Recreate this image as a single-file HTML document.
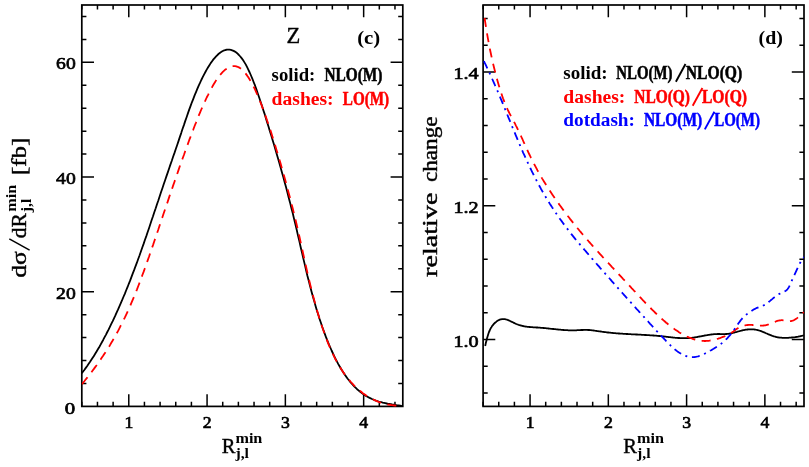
<!DOCTYPE html>
<html><head><meta charset="utf-8"><title>plot</title>
<style>
html,body{margin:0;padding:0;background:#fff;}
svg{display:block;}
#w{will-change:transform;width:809px;height:467px;overflow:hidden;}
text{font-family:"Liberation Serif",serif;font-weight:bold;fill:#000;}
.md{font-weight:normal;stroke:#000;stroke-width:0.4;}
.dg text{font-weight:normal;stroke:#000;stroke-width:0.7;}
.fr{fill:none;stroke:#000;stroke-width:1.7;}
.tk{fill:none;stroke:#000;stroke-width:1.5;}
.cv{fill:none;stroke-width:1.8;stroke-linejoin:round;}
</style></head><body>
<div id="w"><svg width="809" height="467" viewBox="0 0 809 467">
<!-- left panel -->
<path class="tk" d="M81.80,406.4v-4.6 M81.80,5.0v4.6 M97.46,406.4v-4.6 M97.46,5.0v4.6 M113.12,406.4v-4.6 M113.12,5.0v4.6 M144.43,406.4v-4.6 M144.43,5.0v4.6 M160.09,406.4v-4.6 M160.09,5.0v4.6 M175.75,406.4v-4.6 M175.75,5.0v4.6 M191.41,406.4v-4.6 M191.41,5.0v4.6 M222.73,406.4v-4.6 M222.73,5.0v4.6 M238.39,406.4v-4.6 M238.39,5.0v4.6 M254.04,406.4v-4.6 M254.04,5.0v4.6 M269.70,406.4v-4.6 M269.70,5.0v4.6 M301.02,406.4v-4.6 M301.02,5.0v4.6 M316.68,406.4v-4.6 M316.68,5.0v4.6 M332.34,406.4v-4.6 M332.34,5.0v4.6 M348.00,406.4v-4.6 M348.00,5.0v4.6 M379.31,406.4v-4.6 M379.31,5.0v4.6 M394.97,406.4v-4.6 M394.97,5.0v4.6 M128.78,406.4v-12.2 M128.78,5.0v12.2 M207.07,406.4v-12.2 M207.07,5.0v12.2 M285.36,406.4v-12.2 M285.36,5.0v12.2 M363.65,406.4v-12.2 M363.65,5.0v12.2 M81.8,383.46h4.6 M402.8,383.46h-4.6 M81.8,360.53h4.6 M402.8,360.53h-4.6 M81.8,337.59h4.6 M402.8,337.59h-4.6 M81.8,314.65h4.6 M402.8,314.65h-4.6 M81.8,268.78h4.6 M402.8,268.78h-4.6 M81.8,245.84h4.6 M402.8,245.84h-4.6 M81.8,222.90h4.6 M402.8,222.90h-4.6 M81.8,199.97h4.6 M402.8,199.97h-4.6 M81.8,154.09h4.6 M402.8,154.09h-4.6 M81.8,131.15h4.6 M402.8,131.15h-4.6 M81.8,108.22h4.6 M402.8,108.22h-4.6 M81.8,85.28h4.6 M402.8,85.28h-4.6 M81.8,39.41h4.6 M402.8,39.41h-4.6 M81.8,16.47h4.6 M402.8,16.47h-4.6 M81.8,291.71h12.2 M402.8,291.71h-12.2 M81.8,177.03h12.2 M402.8,177.03h-12.2 M81.8,62.34h12.2 M402.8,62.34h-12.2"/>
<rect class="fr" x="81.8" y="5.0" width="321.0" height="401.4"/>
<clipPath id="cl"><rect x="81.8" y="5.0" width="321.0" height="402.4"/></clipPath>
<g clip-path="url(#cl)">
<path class="cv" stroke="#000" d="M81.8,373.2 L83.1,371.5 L84.5,369.7 L85.8,367.9 L87.2,366.0 L88.5,364.1 L89.9,362.1 L91.2,360.1 L92.5,358.1 L93.9,355.9 L95.2,353.8 L96.6,351.5 L97.9,349.3 L99.3,347.0 L100.6,344.6 L101.9,342.2 L103.3,339.7 L104.6,337.2 L106.0,334.6 L107.3,332.0 L108.7,329.4 L110.0,326.7 L111.3,323.9 L112.7,321.1 L114.0,318.3 L115.4,315.4 L116.7,312.4 L118.1,309.4 L119.4,306.4 L120.7,303.3 L122.1,300.2 L123.4,297.0 L124.8,293.8 L126.1,290.5 L127.5,287.2 L128.8,283.8 L130.2,280.4 L131.5,276.9 L132.8,273.4 L134.2,269.9 L135.5,266.3 L136.9,262.7 L138.2,259.0 L139.6,255.3 L140.9,251.5 L142.2,247.7 L143.6,243.9 L144.9,240.0 L146.3,236.1 L147.6,232.2 L149.0,228.2 L150.3,224.3 L151.6,220.3 L153.0,216.3 L154.3,212.3 L155.7,208.3 L157.0,204.3 L158.4,200.3 L159.7,196.2 L161.0,192.2 L162.4,188.2 L163.7,184.3 L165.1,180.3 L166.4,176.4 L167.8,172.4 L169.1,168.5 L170.4,164.6 L171.8,160.7 L173.1,156.8 L174.5,152.9 L175.8,149.0 L177.2,145.0 L178.5,141.1 L179.8,137.1 L181.2,133.1 L182.5,129.0 L183.9,125.1 L185.2,121.1 L186.6,117.2 L187.9,113.4 L189.2,109.6 L190.6,105.9 L191.9,102.3 L193.3,98.8 L194.6,95.4 L196.0,92.1 L197.3,88.9 L198.6,85.8 L200.0,82.9 L201.3,80.0 L202.7,77.2 L204.0,74.6 L205.4,72.0 L206.7,69.6 L208.1,67.3 L209.4,65.2 L210.7,63.1 L212.1,61.2 L213.4,59.4 L214.8,57.8 L216.1,56.3 L217.5,55.0 L218.8,53.7 L220.1,52.7 L221.5,51.8 L222.8,51.0 L224.2,50.4 L225.5,50.0 L226.9,49.7 L228.2,49.6 L229.5,49.7 L230.9,49.9 L232.2,50.3 L233.6,50.9 L234.9,51.6 L236.3,52.5 L237.6,53.7 L238.9,55.0 L240.3,56.5 L241.6,58.1 L243.0,60.0 L244.3,62.1 L245.7,64.4 L247.0,66.9 L248.3,69.6 L249.7,72.5 L251.0,75.5 L252.4,78.8 L253.7,82.2 L255.1,85.7 L256.4,89.4 L257.7,93.2 L259.1,97.2 L260.4,101.2 L261.8,105.3 L263.1,109.4 L264.5,113.6 L265.8,117.9 L267.1,122.2 L268.5,126.5 L269.8,130.9 L271.2,135.3 L272.5,139.7 L273.9,144.2 L275.2,148.7 L276.5,153.3 L277.9,157.9 L279.2,162.6 L280.6,167.4 L281.9,172.2 L283.3,177.0 L284.6,182.0 L286.0,187.0 L287.3,192.0 L288.6,197.2 L290.0,202.4 L291.3,207.7 L292.7,213.1 L294.0,218.6 L295.4,224.2 L296.7,229.8 L298.0,235.6 L299.4,241.4 L300.7,247.2 L302.1,253.1 L303.4,258.9 L304.8,264.6 L306.1,270.2 L307.4,275.8 L308.8,281.1 L310.1,286.3 L311.5,291.4 L312.8,296.3 L314.2,301.1 L315.5,305.7 L316.8,310.2 L318.2,314.5 L319.5,318.7 L320.9,322.8 L322.2,326.7 L323.6,330.5 L324.9,334.1 L326.2,337.7 L327.6,341.1 L328.9,344.3 L330.3,347.5 L331.6,350.5 L333.0,353.5 L334.3,356.3 L335.6,359.0 L337.0,361.6 L338.3,364.1 L339.7,366.5 L341.0,368.8 L342.4,370.9 L343.7,373.0 L345.0,375.0 L346.4,376.9 L347.7,378.8 L349.1,380.5 L350.4,382.1 L351.8,383.7 L353.1,385.2 L354.4,386.6 L355.8,387.9 L357.1,389.2 L358.5,390.4 L359.8,391.5 L361.2,392.5 L362.5,393.5 L363.9,394.5 L365.2,395.4 L366.5,396.2 L367.9,396.9 L369.2,397.7 L370.6,398.3 L371.9,399.0 L373.3,399.5 L374.6,400.1 L375.9,400.6 L377.3,401.0 L378.6,401.5 L380.0,401.9 L381.3,402.2 L382.7,402.6 L384.0,402.9 L385.3,403.2 L386.7,403.5 L388.0,403.8 L389.4,404.0 L390.7,404.2 L392.1,404.5 L393.4,404.7 L394.7,404.9 L396.1,405.1 L397.4,405.3 L398.8,405.5 L400.1,405.7 L401.5,406.0 L402.8,406.2"/>
<path class="cv" stroke="#f00" stroke-dasharray="9 6.5" d="M81.8,384.3 L83.1,382.7 L84.5,381.0 L85.8,379.3 L87.2,377.7 L88.5,376.0 L89.9,374.2 L91.2,372.5 L92.5,370.7 L93.9,368.9 L95.2,367.1 L96.6,365.3 L97.9,363.4 L99.3,361.5 L100.6,359.6 L101.9,357.6 L103.3,355.6 L104.6,353.6 L106.0,351.5 L107.3,349.4 L108.7,347.3 L110.0,345.1 L111.3,342.8 L112.7,340.5 L114.0,338.2 L115.4,335.8 L116.7,333.4 L118.1,330.9 L119.4,328.3 L120.7,325.7 L122.1,323.1 L123.4,320.4 L124.8,317.6 L126.1,314.8 L127.5,311.8 L128.8,308.9 L130.2,305.9 L131.5,302.7 L132.8,299.6 L134.2,296.3 L135.5,293.0 L136.9,289.6 L138.2,286.2 L139.6,282.7 L140.9,279.1 L142.2,275.5 L143.6,271.9 L144.9,268.2 L146.3,264.4 L147.6,260.6 L149.0,256.8 L150.3,252.9 L151.6,249.0 L153.0,245.1 L154.3,241.2 L155.7,237.2 L157.0,233.3 L158.4,229.3 L159.7,225.3 L161.0,221.3 L162.4,217.3 L163.7,213.3 L165.1,209.3 L166.4,205.4 L167.8,201.4 L169.1,197.4 L170.4,193.5 L171.8,189.5 L173.1,185.6 L174.5,181.7 L175.8,177.9 L177.2,174.0 L178.5,170.1 L179.8,166.3 L181.2,162.5 L182.5,158.7 L183.9,155.0 L185.2,151.2 L186.6,147.5 L187.9,143.9 L189.2,140.2 L190.6,136.6 L191.9,133.0 L193.3,129.5 L194.6,126.0 L196.0,122.6 L197.3,119.2 L198.6,115.9 L200.0,112.6 L201.3,109.5 L202.7,106.4 L204.0,103.3 L205.4,100.4 L206.7,97.5 L208.1,94.8 L209.4,92.1 L210.7,89.6 L212.1,87.1 L213.4,84.8 L214.8,82.5 L216.1,80.4 L217.5,78.5 L218.8,76.6 L220.1,74.9 L221.5,73.3 L222.8,71.9 L224.2,70.6 L225.5,69.4 L226.9,68.5 L228.2,67.6 L229.5,67.0 L230.9,66.5 L232.2,66.2 L233.6,66.1 L234.9,66.1 L236.3,66.3 L237.6,66.8 L238.9,67.4 L240.3,68.2 L241.6,69.3 L243.0,70.5 L244.3,71.9 L245.7,73.6 L247.0,75.4 L248.3,77.3 L249.7,79.5 L251.0,81.8 L252.4,84.3 L253.7,86.9 L255.1,89.7 L256.4,92.6 L257.7,95.7 L259.1,98.8 L260.4,102.2 L261.8,105.6 L263.1,109.2 L264.5,112.8 L265.8,116.6 L267.1,120.5 L268.5,124.4 L269.8,128.5 L271.2,132.6 L272.5,136.9 L273.9,141.1 L275.2,145.5 L276.5,149.9 L277.9,154.4 L279.2,159.0 L280.6,163.6 L281.9,168.3 L283.3,173.0 L284.6,177.8 L286.0,182.7 L287.3,187.7 L288.6,192.7 L290.0,197.8 L291.3,203.0 L292.7,208.3 L294.0,213.6 L295.4,219.1 L296.7,224.7 L298.0,230.5 L299.4,236.5 L300.7,242.5 L302.1,248.6 L303.4,254.8 L304.8,260.9 L306.1,266.9 L307.4,272.8 L308.8,278.6 L310.1,284.2 L311.5,289.7 L312.8,294.9 L314.2,300.0 L315.5,305.0 L316.8,309.7 L318.2,314.3 L319.5,318.7 L320.9,322.9 L322.2,327.0 L323.6,331.0 L324.9,334.7 L326.2,338.3 L327.6,341.8 L328.9,345.1 L330.3,348.2 L331.6,351.2 L333.0,354.1 L334.3,356.9 L335.6,359.5 L337.0,362.0 L338.3,364.4 L339.7,366.7 L341.0,368.8 L342.4,370.9 L343.7,372.9 L345.0,374.7 L346.4,376.5 L347.7,378.3 L349.1,379.9 L350.4,381.5 L351.8,383.0 L353.1,384.4 L354.4,385.8 L355.8,387.1 L357.1,388.4 L358.5,389.6 L359.8,390.7 L361.2,391.8 L362.5,392.9 L363.9,393.9 L365.2,394.8 L366.5,395.7 L367.9,396.6 L369.2,397.4 L370.6,398.1 L371.9,398.8 L373.3,399.5 L374.6,400.1 L375.9,400.7 L377.3,401.3 L378.6,401.8 L380.0,402.3 L381.3,402.7 L382.7,403.1 L384.0,403.5 L385.3,403.8 L386.7,404.2 L388.0,404.5 L389.4,404.7 L390.7,405.0 L392.1,405.2 L393.4,405.4 L394.7,405.5 L396.1,405.7 L397.4,405.8 L398.8,405.9 L400.1,406.0 L401.5,406.1 L402.8,406.2"/>
</g>
<g font-size="17.7" text-anchor="end" class="dg">
<text x="75.7" y="69.4" textLength="19.6" lengthAdjust="spacingAndGlyphs">60</text>
<text x="75.7" y="184.1" textLength="19.6" lengthAdjust="spacingAndGlyphs">40</text>
<text x="75.7" y="298.8" textLength="19.6" lengthAdjust="spacingAndGlyphs">20</text>
<text x="75.1" y="413.5" textLength="10.4" lengthAdjust="spacingAndGlyphs">0</text>
</g>
<g font-size="17.7" text-anchor="middle" class="dg">
<text x="128.8" y="428">1</text><text x="207.1" y="428">2</text><text x="285.4" y="428">3</text><text x="363.7" y="428">4</text>
</g>
<text x="221.7" y="452.9" font-size="20.5" class="md">R</text>
<text x="235.4" y="443.1" font-size="15" textLength="27" lengthAdjust="spacingAndGlyphs">min</text>
<text x="235.4" y="457.5" font-size="15" textLength="13.6" lengthAdjust="spacingAndGlyphs">j,l</text>
<text x="286.5" y="42.6" font-size="22.5" class="md">Z</text>
<text x="357.2" y="43.9" font-size="18.6" textLength="23" lengthAdjust="spacingAndGlyphs">(c)</text>
<text x="271.6" y="80.7" font-size="18.5" textLength="43.7" lengthAdjust="spacingAndGlyphs">solid:</text>
<text stroke="#000" stroke-width="0.55" x="324.5" y="80.7" font-size="18.5" textLength="57.9" lengthAdjust="spacingAndGlyphs">NLO(M)</text>
<text x="271.6" y="104.5" font-size="18.5" textLength="62.0" lengthAdjust="spacingAndGlyphs" style="fill:#f00">dashes:</text>
<text stroke="#f00" stroke-width="0.55" x="342.8" y="104.5" font-size="18.5" textLength="46.3" lengthAdjust="spacingAndGlyphs" style="fill:#f00">LO(M)</text>
<g transform="translate(25.7,276.6) rotate(-90)">
<text x="-1.2" y="0" font-size="20.5" class="md" textLength="26.5" lengthAdjust="spacingAndGlyphs">dσ</text>
<path d="M26.4,3.9 L37.7,-16.4" stroke="#000" stroke-width="1.5" fill="none"/>
<text x="38.3" y="0" font-size="20.5" class="md" textLength="25.2" lengthAdjust="spacingAndGlyphs">dR</text>
<text x="64.8" y="-9.7" font-size="15" textLength="27" lengthAdjust="spacingAndGlyphs">min</text>
<text x="64.3" y="5" font-size="15" textLength="13.6" lengthAdjust="spacingAndGlyphs">j,l</text>
<text x="101.5" y="0" font-size="20.5" class="md" textLength="37.5" lengthAdjust="spacingAndGlyphs">[fb]</text>
</g>

<!-- right panel -->
<path class="tk" d="M483.10,406.4v-4.6 M483.10,5.0v4.6 M498.75,406.4v-4.6 M498.75,5.0v4.6 M514.41,406.4v-4.6 M514.41,5.0v4.6 M545.71,406.4v-4.6 M545.71,5.0v4.6 M561.37,406.4v-4.6 M561.37,5.0v4.6 M577.02,406.4v-4.6 M577.02,5.0v4.6 M592.68,406.4v-4.6 M592.68,5.0v4.6 M623.98,406.4v-4.6 M623.98,5.0v4.6 M639.64,406.4v-4.6 M639.64,5.0v4.6 M655.29,406.4v-4.6 M655.29,5.0v4.6 M670.94,406.4v-4.6 M670.94,5.0v4.6 M702.25,406.4v-4.6 M702.25,5.0v4.6 M717.90,406.4v-4.6 M717.90,5.0v4.6 M733.56,406.4v-4.6 M733.56,5.0v4.6 M749.21,406.4v-4.6 M749.21,5.0v4.6 M780.52,406.4v-4.6 M780.52,5.0v4.6 M796.17,406.4v-4.6 M796.17,5.0v4.6 M530.06,406.4v-12.2 M530.06,5.0v12.2 M608.33,406.4v-12.2 M608.33,5.0v12.2 M686.60,406.4v-12.2 M686.60,5.0v12.2 M764.87,406.4v-12.2 M764.87,5.0v12.2 M483.1,393.02h4.6 M804.0,393.02h-4.6 M483.1,366.26h4.6 M804.0,366.26h-4.6 M483.1,312.74h4.6 M804.0,312.74h-4.6 M483.1,285.98h4.6 M804.0,285.98h-4.6 M483.1,259.22h4.6 M804.0,259.22h-4.6 M483.1,232.46h4.6 M804.0,232.46h-4.6 M483.1,178.94h4.6 M804.0,178.94h-4.6 M483.1,152.18h4.6 M804.0,152.18h-4.6 M483.1,125.42h4.6 M804.0,125.42h-4.6 M483.1,98.66h4.6 M804.0,98.66h-4.6 M483.1,45.14h4.6 M804.0,45.14h-4.6 M483.1,18.38h4.6 M804.0,18.38h-4.6 M483.1,339.50h12.2 M804.0,339.50h-12.2 M483.1,205.70h12.2 M804.0,205.70h-12.2 M483.1,71.90h12.2 M804.0,71.90h-12.2"/>
<rect class="fr" x="483.1" y="5.0" width="320.9" height="401.4"/>
<clipPath id="cr"><rect x="483.1" y="5.0" width="320.9" height="401.4"/></clipPath>
<g clip-path="url(#cr)">
<path class="cv" stroke="#000" d="M485.2,346.0 L485.8,343.1 L486.5,340.4 L487.1,337.9 L487.8,335.7 L488.4,333.7 L489.0,332.0 L489.7,330.5 L490.3,329.1 L490.9,327.9 L491.6,326.9 L492.2,325.9 L492.9,325.1 L493.5,324.4 L494.1,323.7 L494.8,323.0 L495.4,322.4 L496.1,321.9 L496.7,321.4 L497.3,320.9 L498.0,320.5 L498.6,320.2 L499.2,319.9 L499.9,319.6 L500.5,319.4 L501.2,319.3 L501.8,319.2 L502.4,319.1 L503.1,319.1 L503.7,319.1 L504.4,319.1 L505.0,319.2 L505.6,319.3 L506.3,319.5 L506.9,319.7 L507.5,319.9 L508.2,320.1 L508.8,320.4 L509.5,320.7 L510.1,321.0 L510.7,321.3 L511.4,321.6 L512.0,321.9 L512.7,322.2 L513.3,322.5 L513.9,322.9 L514.6,323.2 L515.2,323.5 L515.8,323.8 L516.5,324.0 L517.1,324.3 L517.8,324.5 L518.4,324.8 L519.0,325.0 L519.7,325.2 L520.3,325.4 L521.0,325.5 L521.6,325.7 L522.2,325.9 L522.9,326.0 L523.5,326.1 L524.1,326.3 L524.8,326.4 L525.4,326.5 L526.1,326.6 L526.7,326.7 L527.3,326.8 L528.0,326.8 L528.6,326.9 L529.3,327.0 L529.9,327.0 L530.5,327.1 L531.2,327.1 L531.8,327.2 L532.4,327.2 L533.1,327.3 L533.7,327.3 L534.4,327.4 L535.0,327.4 L535.6,327.4 L536.3,327.5 L536.9,327.5 L537.6,327.5 L538.2,327.6 L538.8,327.6 L539.5,327.7 L540.1,327.7 L540.7,327.8 L541.4,327.8 L542.0,327.9 L542.7,327.9 L543.3,328.0 L543.9,328.0 L544.6,328.1 L545.2,328.2 L545.9,328.2 L546.5,328.3 L547.1,328.4 L547.8,328.4 L548.4,328.5 L549.0,328.6 L549.7,328.6 L550.3,328.7 L551.0,328.8 L551.6,328.8 L552.2,328.9 L552.9,329.0 L553.5,329.0 L554.2,329.1 L554.8,329.2 L555.4,329.2 L556.1,329.3 L556.7,329.4 L557.3,329.4 L558.0,329.5 L558.6,329.6 L559.3,329.6 L559.9,329.7 L560.5,329.7 L561.2,329.8 L561.8,329.9 L562.5,329.9 L563.1,330.0 L563.7,330.0 L564.4,330.1 L565.0,330.1 L565.6,330.1 L566.3,330.2 L566.9,330.2 L567.6,330.2 L568.2,330.3 L568.8,330.3 L569.5,330.3 L570.1,330.3 L570.8,330.3 L571.4,330.3 L572.0,330.3 L572.7,330.3 L573.3,330.3 L573.9,330.3 L574.6,330.3 L575.2,330.3 L575.9,330.3 L576.5,330.3 L577.1,330.2 L577.8,330.2 L578.4,330.2 L579.1,330.1 L579.7,330.1 L580.3,330.1 L581.0,330.0 L581.6,330.0 L582.2,330.0 L582.9,330.0 L583.5,329.9 L584.2,329.9 L584.8,329.9 L585.4,329.9 L586.1,329.9 L586.7,329.9 L587.4,329.9 L588.0,330.0 L588.6,330.0 L589.3,330.0 L589.9,330.1 L590.5,330.2 L591.2,330.2 L591.8,330.3 L592.5,330.4 L593.1,330.4 L593.7,330.5 L594.4,330.6 L595.0,330.7 L595.7,330.8 L596.3,330.9 L596.9,331.0 L597.6,331.1 L598.2,331.2 L598.8,331.3 L599.5,331.4 L600.1,331.4 L600.8,331.5 L601.4,331.6 L602.0,331.7 L602.7,331.8 L603.3,331.9 L604.0,332.0 L604.6,332.1 L605.2,332.2 L605.9,332.2 L606.5,332.3 L607.1,332.4 L607.8,332.5 L608.4,332.5 L609.1,332.6 L609.7,332.7 L610.3,332.7 L611.0,332.8 L611.6,332.9 L612.3,332.9 L612.9,333.0 L613.5,333.1 L614.2,333.1 L614.8,333.2 L615.4,333.2 L616.1,333.3 L616.7,333.3 L617.4,333.4 L618.0,333.4 L618.6,333.5 L619.3,333.5 L619.9,333.6 L620.6,333.6 L621.2,333.7 L621.8,333.7 L622.5,333.7 L623.1,333.8 L623.7,333.8 L624.4,333.9 L625.0,333.9 L625.7,333.9 L626.3,334.0 L626.9,334.0 L627.6,334.0 L628.2,334.1 L628.9,334.1 L629.5,334.2 L630.1,334.2 L630.8,334.2 L631.4,334.3 L632.0,334.3 L632.7,334.3 L633.3,334.4 L634.0,334.4 L634.6,334.4 L635.2,334.4 L635.9,334.5 L636.5,334.5 L637.2,334.5 L637.8,334.6 L638.4,334.6 L639.1,334.6 L639.7,334.7 L640.3,334.7 L641.0,334.7 L641.6,334.8 L642.3,334.8 L642.9,334.8 L643.5,334.9 L644.2,334.9 L644.8,335.0 L645.5,335.0 L646.1,335.0 L646.7,335.1 L647.4,335.1 L648.0,335.1 L648.7,335.2 L649.3,335.2 L649.9,335.3 L650.6,335.3 L651.2,335.4 L651.8,335.4 L652.5,335.4 L653.1,335.5 L653.8,335.5 L654.4,335.6 L655.0,335.6 L655.7,335.7 L656.3,335.7 L657.0,335.8 L657.6,335.9 L658.2,335.9 L658.9,336.0 L659.5,336.0 L660.1,336.1 L660.8,336.2 L661.4,336.2 L662.1,336.3 L662.7,336.4 L663.3,336.4 L664.0,336.5 L664.6,336.6 L665.3,336.7 L665.9,336.7 L666.5,336.8 L667.2,336.9 L667.8,336.9 L668.4,337.0 L669.1,337.1 L669.7,337.2 L670.4,337.2 L671.0,337.3 L671.6,337.4 L672.3,337.4 L672.9,337.5 L673.6,337.6 L674.2,337.6 L674.8,337.7 L675.5,337.8 L676.1,337.8 L676.7,337.9 L677.4,337.9 L678.0,338.0 L678.7,338.0 L679.3,338.0 L679.9,338.1 L680.6,338.1 L681.2,338.1 L681.9,338.2 L682.5,338.2 L683.1,338.2 L683.8,338.2 L684.4,338.2 L685.0,338.2 L685.7,338.2 L686.3,338.2 L687.0,338.2 L687.6,338.1 L688.2,338.1 L688.9,338.1 L689.5,338.0 L690.2,338.0 L690.8,337.9 L691.4,337.8 L692.1,337.8 L692.7,337.7 L693.3,337.6 L694.0,337.5 L694.6,337.4 L695.3,337.3 L695.9,337.2 L696.5,337.1 L697.2,337.0 L697.8,336.9 L698.5,336.7 L699.1,336.6 L699.7,336.5 L700.4,336.4 L701.0,336.3 L701.6,336.1 L702.3,336.0 L702.9,335.9 L703.6,335.8 L704.2,335.6 L704.8,335.5 L705.5,335.4 L706.1,335.3 L706.8,335.2 L707.4,335.1 L708.0,335.0 L708.7,334.8 L709.3,334.8 L709.9,334.7 L710.6,334.6 L711.2,334.5 L711.9,334.4 L712.5,334.3 L713.1,334.3 L713.8,334.2 L714.4,334.2 L715.1,334.1 L715.7,334.1 L716.3,334.1 L717.0,334.1 L717.6,334.0 L718.2,334.0 L718.9,334.0 L719.5,334.0 L720.2,334.1 L720.8,334.1 L721.4,334.1 L722.1,334.1 L722.7,334.1 L723.4,334.1 L724.0,334.1 L724.6,334.1 L725.3,334.1 L725.9,334.0 L726.5,334.0 L727.2,333.9 L727.8,333.9 L728.5,333.8 L729.1,333.7 L729.7,333.6 L730.4,333.5 L731.0,333.3 L731.7,333.2 L732.3,333.0 L732.9,332.9 L733.6,332.7 L734.2,332.6 L734.8,332.4 L735.5,332.2 L736.1,332.1 L736.8,331.9 L737.4,331.7 L738.0,331.5 L738.7,331.3 L739.3,331.2 L740.0,331.0 L740.6,330.8 L741.2,330.7 L741.9,330.5 L742.5,330.4 L743.1,330.2 L743.8,330.1 L744.4,330.0 L745.1,329.8 L745.7,329.7 L746.3,329.7 L747.0,329.6 L747.6,329.5 L748.3,329.4 L748.9,329.4 L749.5,329.3 L750.2,329.3 L750.8,329.3 L751.4,329.3 L752.1,329.3 L752.7,329.3 L753.4,329.4 L754.0,329.4 L754.6,329.5 L755.3,329.6 L755.9,329.7 L756.6,329.8 L757.2,330.0 L757.8,330.1 L758.5,330.3 L759.1,330.5 L759.7,330.7 L760.4,330.9 L761.0,331.1 L761.7,331.4 L762.3,331.6 L762.9,331.9 L763.6,332.1 L764.2,332.4 L764.9,332.7 L765.5,333.0 L766.1,333.3 L766.8,333.5 L767.4,333.8 L768.0,334.1 L768.7,334.4 L769.3,334.7 L770.0,334.9 L770.6,335.2 L771.2,335.4 L771.9,335.7 L772.5,335.9 L773.2,336.1 L773.8,336.3 L774.4,336.5 L775.1,336.7 L775.7,336.9 L776.3,337.0 L777.0,337.1 L777.6,337.3 L778.3,337.4 L778.9,337.5 L779.5,337.6 L780.2,337.6 L780.8,337.7 L781.5,337.7 L782.1,337.8 L782.7,337.8 L783.4,337.8 L784.0,337.9 L784.6,337.9 L785.3,337.9 L785.9,337.9 L786.6,337.8 L787.2,337.8 L787.8,337.8 L788.5,337.8 L789.1,337.7 L789.8,337.7 L790.4,337.7 L791.0,337.6 L791.7,337.5 L792.3,337.5 L792.9,337.4 L793.6,337.3 L794.2,337.3 L794.9,337.2 L795.5,337.1 L796.1,337.0 L796.8,336.9 L797.4,336.8 L798.1,336.7 L798.7,336.5 L799.3,336.4 L800.0,336.3 L800.6,336.1 L801.2,336.0 L801.9,335.8 L802.5,335.7 L803.2,335.5 L803.8,335.3"/>
<path class="cv" stroke="#f00" stroke-dasharray="9 6.5" d="M484.6,18.0 L485.4,23.3 L486.2,28.4 L487.0,33.2 L487.8,37.8 L488.6,42.2 L489.4,46.4 L490.2,50.5 L491.0,54.3 L491.8,58.0 L492.6,61.6 L493.4,65.0 L494.2,68.3 L495.0,71.4 L495.8,74.5 L496.6,77.5 L497.4,80.4 L498.2,83.2 L499.0,85.9 L499.8,88.6 L500.6,91.1 L501.4,93.6 L502.2,96.0 L503.0,98.3 L503.8,100.4 L504.6,102.5 L505.4,104.5 L506.2,106.4 L507.0,108.2 L507.8,109.9 L508.6,111.5 L509.4,113.2 L510.2,114.7 L511.0,116.2 L511.8,117.8 L512.6,119.2 L513.4,120.7 L514.2,122.2 L515.0,123.7 L515.8,125.3 L516.6,126.8 L517.4,128.5 L518.2,130.1 L519.0,131.8 L519.8,133.5 L520.6,135.2 L521.4,137.0 L522.2,138.7 L523.0,140.5 L523.8,142.3 L524.6,144.0 L525.4,145.8 L526.2,147.6 L527.0,149.3 L527.8,151.1 L528.6,152.8 L529.4,154.5 L530.2,156.2 L531.0,157.8 L531.8,159.4 L532.6,161.0 L533.4,162.6 L534.2,164.2 L535.0,165.7 L535.8,167.2 L536.6,168.7 L537.4,170.2 L538.2,171.6 L539.0,173.0 L539.8,174.4 L540.6,175.8 L541.4,177.2 L542.2,178.6 L543.0,179.9 L543.8,181.2 L544.6,182.5 L545.4,183.8 L546.2,185.1 L547.0,186.4 L547.8,187.6 L548.6,188.9 L549.4,190.1 L550.2,191.3 L551.0,192.5 L551.8,193.7 L552.6,194.9 L553.4,196.1 L554.2,197.2 L555.0,198.4 L555.8,199.6 L556.6,200.7 L557.4,201.8 L558.2,203.0 L559.0,204.1 L559.8,205.2 L560.6,206.3 L561.4,207.4 L562.2,208.5 L563.0,209.6 L563.8,210.7 L564.6,211.7 L565.4,212.8 L566.2,213.9 L567.0,214.9 L567.8,216.0 L568.6,217.0 L569.4,218.0 L570.2,219.1 L571.0,220.1 L571.8,221.1 L572.6,222.1 L573.4,223.1 L574.2,224.1 L575.0,225.1 L575.8,226.1 L576.6,227.1 L577.4,228.1 L578.2,229.0 L579.0,230.0 L579.8,231.0 L580.6,231.9 L581.4,232.9 L582.2,233.8 L583.0,234.8 L583.8,235.7 L584.6,236.6 L585.4,237.6 L586.2,238.5 L587.0,239.4 L587.8,240.3 L588.6,241.3 L589.4,242.2 L590.2,243.1 L591.0,244.0 L591.8,244.9 L592.6,245.8 L593.4,246.7 L594.2,247.6 L595.0,248.5 L595.8,249.4 L596.6,250.3 L597.4,251.1 L598.2,252.0 L599.0,252.9 L599.8,253.8 L600.6,254.7 L601.4,255.5 L602.2,256.4 L603.0,257.3 L603.8,258.1 L604.6,259.0 L605.4,259.9 L606.2,260.7 L607.0,261.6 L607.8,262.5 L608.6,263.3 L609.4,264.2 L610.2,265.0 L611.0,265.9 L611.8,266.8 L612.6,267.6 L613.4,268.5 L614.2,269.3 L615.0,270.2 L615.8,271.0 L616.6,271.9 L617.4,272.7 L618.2,273.6 L619.0,274.5 L619.8,275.3 L620.6,276.2 L621.4,277.0 L622.2,277.9 L623.0,278.8 L623.8,279.6 L624.6,280.5 L625.4,281.3 L626.2,282.2 L627.0,283.1 L627.8,283.9 L628.6,284.8 L629.4,285.7 L630.2,286.5 L631.0,287.4 L631.8,288.3 L632.6,289.1 L633.4,290.0 L634.2,290.9 L635.0,291.7 L635.8,292.6 L636.6,293.5 L637.4,294.3 L638.2,295.2 L639.0,296.0 L639.8,296.9 L640.6,297.7 L641.4,298.6 L642.2,299.4 L643.0,300.3 L643.8,301.1 L644.6,302.0 L645.4,302.8 L646.2,303.6 L647.0,304.5 L647.8,305.3 L648.6,306.1 L649.4,306.9 L650.2,307.7 L651.0,308.5 L651.8,309.3 L652.6,310.1 L653.4,310.9 L654.2,311.7 L655.0,312.5 L655.8,313.3 L656.6,314.0 L657.4,314.8 L658.2,315.6 L659.0,316.3 L659.8,317.0 L660.6,317.8 L661.4,318.5 L662.2,319.2 L663.0,319.9 L663.8,320.6 L664.6,321.3 L665.4,322.0 L666.2,322.7 L667.0,323.3 L667.8,324.0 L668.6,324.6 L669.4,325.3 L670.2,325.9 L671.0,326.5 L671.8,327.1 L672.6,327.7 L673.4,328.3 L674.2,328.9 L675.0,329.5 L675.8,330.0 L676.6,330.6 L677.4,331.1 L678.2,331.6 L679.0,332.2 L679.8,332.7 L680.6,333.1 L681.4,333.6 L682.2,334.1 L683.0,334.5 L683.8,335.0 L684.6,335.4 L685.4,335.8 L686.2,336.2 L687.0,336.6 L687.8,336.9 L688.6,337.3 L689.4,337.6 L690.2,337.9 L691.0,338.2 L691.8,338.5 L692.6,338.8 L693.4,339.1 L694.2,339.3 L695.0,339.6 L695.8,339.8 L696.6,340.0 L697.4,340.1 L698.2,340.3 L699.0,340.4 L699.8,340.6 L700.6,340.7 L701.4,340.8 L702.2,340.8 L703.0,340.9 L703.8,340.9 L704.6,341.0 L705.4,341.0 L706.2,340.9 L707.0,340.9 L707.8,340.8 L708.6,340.8 L709.4,340.7 L710.2,340.5 L711.0,340.4 L711.8,340.3 L712.6,340.1 L713.4,339.9 L714.2,339.7 L715.0,339.5 L715.8,339.3 L716.6,339.1 L717.4,338.8 L718.2,338.6 L719.0,338.3 L719.8,338.1 L720.6,337.8 L721.4,337.5 L722.2,337.2 L723.0,336.9 L723.8,336.6 L724.6,336.3 L725.4,335.9 L726.2,335.6 L727.0,335.2 L727.8,334.8 L728.6,334.4 L729.4,334.0 L730.2,333.5 L731.0,333.0 L731.8,332.5 L732.6,331.9 L733.4,331.4 L734.2,330.8 L735.0,330.2 L735.8,329.6 L736.6,329.1 L737.4,328.6 L738.2,328.1 L739.0,327.6 L739.8,327.2 L740.6,326.8 L741.4,326.5 L742.2,326.2 L743.0,325.9 L743.8,325.7 L744.6,325.5 L745.4,325.3 L746.2,325.2 L747.0,325.1 L747.8,325.0 L748.6,324.9 L749.4,324.9 L750.2,324.9 L751.0,324.9 L751.8,324.9 L752.6,325.0 L753.4,325.1 L754.2,325.1 L755.0,325.2 L755.8,325.3 L756.6,325.4 L757.4,325.4 L758.2,325.5 L759.0,325.6 L759.8,325.6 L760.6,325.6 L761.4,325.6 L762.2,325.6 L763.0,325.6 L763.8,325.5 L764.6,325.4 L765.4,325.3 L766.2,325.1 L767.0,324.9 L767.8,324.7 L768.6,324.5 L769.4,324.2 L770.2,323.9 L771.0,323.6 L771.8,323.3 L772.6,322.9 L773.4,322.6 L774.2,322.2 L775.0,321.9 L775.8,321.5 L776.6,321.2 L777.4,320.9 L778.2,320.7 L779.0,320.5 L779.8,320.4 L780.6,320.3 L781.4,320.2 L782.2,320.2 L783.0,320.3 L783.8,320.4 L784.6,320.5 L785.4,320.7 L786.2,320.8 L787.0,320.9 L787.8,321.0 L788.6,321.1 L789.4,321.2 L790.2,321.1 L791.0,321.1 L791.8,320.9 L792.6,320.7 L793.4,320.4 L794.2,320.0 L795.0,319.5 L795.8,319.0 L796.6,318.5 L797.4,317.9 L798.2,317.2 L799.0,316.6 L799.8,315.9 L800.6,315.1 L801.4,314.4 L802.2,313.6 L803.0,312.9 L803.8,312.1"/>
<path class="cv" stroke="#00f" stroke-dasharray="8 4.7 2 4.7" d="M483.9,61.2 L484.7,62.8 L485.5,64.4 L486.3,66.1 L487.1,67.8 L487.9,69.5 L488.7,71.2 L489.5,72.9 L490.3,74.7 L491.1,76.4 L491.9,78.2 L492.7,80.0 L493.5,81.8 L494.3,83.7 L495.1,85.5 L495.9,87.4 L496.7,89.3 L497.6,91.1 L498.4,93.0 L499.2,94.9 L500.0,96.9 L500.8,98.8 L501.6,100.7 L502.4,102.6 L503.2,104.6 L504.0,106.5 L504.8,108.5 L505.6,110.4 L506.4,112.4 L507.2,114.4 L508.0,116.3 L508.8,118.3 L509.6,120.2 L510.4,122.2 L511.2,124.2 L512.0,126.1 L512.8,128.1 L513.6,130.0 L514.4,132.0 L515.2,133.9 L516.0,135.8 L516.8,137.7 L517.6,139.7 L518.4,141.6 L519.2,143.5 L520.0,145.3 L520.8,147.2 L521.6,149.1 L522.4,150.9 L523.2,152.8 L524.1,154.6 L524.9,156.4 L525.7,158.2 L526.5,159.9 L527.3,161.7 L528.1,163.4 L528.9,165.1 L529.7,166.8 L530.5,168.5 L531.3,170.2 L532.1,171.8 L532.9,173.4 L533.7,175.0 L534.5,176.6 L535.3,178.2 L536.1,179.7 L536.9,181.3 L537.7,182.8 L538.5,184.3 L539.3,185.8 L540.1,187.2 L540.9,188.7 L541.7,190.1 L542.5,191.5 L543.3,192.9 L544.1,194.3 L544.9,195.7 L545.7,197.0 L546.5,198.4 L547.3,199.7 L548.1,201.0 L548.9,202.3 L549.7,203.6 L550.5,204.9 L551.4,206.1 L552.2,207.4 L553.0,208.6 L553.8,209.8 L554.6,211.0 L555.4,212.2 L556.2,213.4 L557.0,214.6 L557.8,215.8 L558.6,216.9 L559.4,218.0 L560.2,219.2 L561.0,220.3 L561.8,221.4 L562.6,222.5 L563.4,223.6 L564.2,224.7 L565.0,225.8 L565.8,226.8 L566.6,227.9 L567.4,228.9 L568.2,230.0 L569.0,231.0 L569.8,232.1 L570.6,233.1 L571.4,234.1 L572.2,235.1 L573.0,236.1 L573.8,237.1 L574.6,238.1 L575.4,239.1 L576.2,240.0 L577.0,241.0 L577.9,242.0 L578.7,242.9 L579.5,243.9 L580.3,244.9 L581.1,245.8 L581.9,246.8 L582.7,247.7 L583.5,248.6 L584.3,249.6 L585.1,250.5 L585.9,251.4 L586.7,252.4 L587.5,253.3 L588.3,254.2 L589.1,255.2 L589.9,256.1 L590.7,257.0 L591.5,257.9 L592.3,258.9 L593.1,259.8 L593.9,260.7 L594.7,261.6 L595.5,262.5 L596.3,263.5 L597.1,264.4 L597.9,265.3 L598.7,266.2 L599.5,267.1 L600.3,268.1 L601.1,269.0 L601.9,269.9 L602.7,270.8 L603.5,271.7 L604.4,272.6 L605.2,273.6 L606.0,274.5 L606.8,275.4 L607.6,276.3 L608.4,277.2 L609.2,278.1 L610.0,279.0 L610.8,279.9 L611.6,280.9 L612.4,281.8 L613.2,282.7 L614.0,283.6 L614.8,284.5 L615.6,285.4 L616.4,286.3 L617.2,287.2 L618.0,288.1 L618.8,289.0 L619.6,289.9 L620.4,290.8 L621.2,291.7 L622.0,292.6 L622.8,293.5 L623.6,294.4 L624.4,295.3 L625.2,296.2 L626.0,297.1 L626.8,298.0 L627.6,298.9 L628.4,299.8 L629.2,300.7 L630.0,301.6 L630.9,302.5 L631.7,303.4 L632.5,304.3 L633.3,305.2 L634.1,306.1 L634.9,307.0 L635.7,307.9 L636.5,308.8 L637.3,309.6 L638.1,310.5 L638.9,311.4 L639.7,312.3 L640.5,313.2 L641.3,314.1 L642.1,315.0 L642.9,315.9 L643.7,316.7 L644.5,317.6 L645.3,318.5 L646.1,319.4 L646.9,320.3 L647.7,321.1 L648.5,322.0 L649.3,322.9 L650.1,323.8 L650.9,324.6 L651.7,325.5 L652.5,326.4 L653.3,327.3 L654.1,328.1 L654.9,329.0 L655.7,329.9 L656.5,330.8 L657.3,331.6 L658.2,332.5 L659.0,333.4 L659.8,334.2 L660.6,335.1 L661.4,336.0 L662.2,336.8 L663.0,337.7 L663.8,338.5 L664.6,339.4 L665.4,340.2 L666.2,341.1 L667.0,341.9 L667.8,342.7 L668.6,343.5 L669.4,344.3 L670.2,345.1 L671.0,345.9 L671.8,346.6 L672.6,347.4 L673.4,348.1 L674.2,348.8 L675.0,349.5 L675.8,350.1 L676.6,350.8 L677.4,351.4 L678.2,351.9 L679.0,352.5 L679.8,353.0 L680.6,353.5 L681.4,354.0 L682.2,354.4 L683.0,354.8 L683.8,355.2 L684.7,355.5 L685.5,355.8 L686.3,356.1 L687.1,356.4 L687.9,356.6 L688.7,356.8 L689.5,356.9 L690.3,357.0 L691.1,357.1 L691.9,357.1 L692.7,357.1 L693.5,357.1 L694.3,357.1 L695.1,357.0 L695.9,356.8 L696.7,356.7 L697.5,356.5 L698.3,356.3 L699.1,356.0 L699.9,355.7 L700.7,355.5 L701.5,355.1 L702.3,354.8 L703.1,354.5 L703.9,354.1 L704.7,353.7 L705.5,353.3 L706.3,352.9 L707.1,352.5 L707.9,352.0 L708.7,351.6 L709.5,351.1 L710.3,350.6 L711.2,350.2 L712.0,349.7 L712.8,349.2 L713.6,348.8 L714.4,348.3 L715.2,347.8 L716.0,347.3 L716.8,346.8 L717.6,346.3 L718.4,345.7 L719.2,345.2 L720.0,344.6 L720.8,344.0 L721.6,343.4 L722.4,342.8 L723.2,342.1 L724.0,341.4 L724.8,340.7 L725.6,339.9 L726.4,339.1 L727.2,338.3 L728.0,337.4 L728.8,336.5 L729.6,335.6 L730.4,334.6 L731.2,333.6 L732.0,332.5 L732.8,331.5 L733.6,330.3 L734.4,329.2 L735.2,328.0 L736.0,326.8 L736.8,325.6 L737.7,324.5 L738.5,323.3 L739.3,322.2 L740.1,321.1 L740.9,320.0 L741.7,319.1 L742.5,318.1 L743.3,317.3 L744.1,316.5 L744.9,315.8 L745.7,315.1 L746.5,314.5 L747.3,313.9 L748.1,313.3 L748.9,312.8 L749.7,312.3 L750.5,311.7 L751.3,311.2 L752.1,310.6 L752.9,310.1 L753.7,309.6 L754.5,309.1 L755.3,308.7 L756.1,308.3 L756.9,307.9 L757.7,307.6 L758.5,307.3 L759.3,307.0 L760.1,306.8 L760.9,306.5 L761.7,306.2 L762.5,305.9 L763.3,305.5 L764.1,305.1 L765.0,304.6 L765.8,304.1 L766.6,303.6 L767.4,303.0 L768.2,302.4 L769.0,301.7 L769.8,301.1 L770.6,300.4 L771.4,299.7 L772.2,299.1 L773.0,298.4 L773.8,297.7 L774.6,297.1 L775.4,296.5 L776.2,295.9 L777.0,295.3 L777.8,294.8 L778.6,294.3 L779.4,293.9 L780.2,293.4 L781.0,293.0 L781.8,292.6 L782.6,292.3 L783.4,291.9 L784.2,291.6 L785.0,291.2 L785.8,290.7 L786.6,290.1 L787.4,289.3 L788.2,288.3 L789.0,286.9 L789.8,285.3 L790.6,283.4 L791.5,281.4 L792.3,279.6 L793.1,277.8 L793.9,276.1 L794.7,274.4 L795.5,272.7 L796.3,270.9 L797.1,269.2 L797.9,267.4 L798.7,265.7 L799.5,264.0 L800.3,262.5 L801.1,261.0 L801.9,259.8 L802.7,258.6 L803.5,257.8 L804.3,257.1"/>
</g>
<g font-size="17.7" text-anchor="end" class="dg">
<text x="478.6" y="79.0" textLength="25.2" lengthAdjust="spacingAndGlyphs">1.4</text>
<text x="478.6" y="212.8" textLength="25.2" lengthAdjust="spacingAndGlyphs">1.2</text>
<text x="478.6" y="346.6" textLength="25.2" lengthAdjust="spacingAndGlyphs">1.0</text>
</g>
<g font-size="17.7" text-anchor="middle" class="dg">
<text x="530.1" y="428">1</text><text x="608.3" y="428">2</text><text x="686.6" y="428">3</text><text x="764.9" y="428">4</text>
</g>
<text x="623.3000000000001" y="452.9" font-size="20.5" class="md">R</text>
<text x="637.0" y="443.1" font-size="15" textLength="27" lengthAdjust="spacingAndGlyphs">min</text>
<text x="637.0" y="457.5" font-size="15" textLength="13.6" lengthAdjust="spacingAndGlyphs">j,l</text>
<text x="758.6" y="43.9" font-size="18.6" textLength="24.3" lengthAdjust="spacingAndGlyphs">(d)</text>
<text x="563.3" y="78.6" font-size="18.5" textLength="44.4" lengthAdjust="spacingAndGlyphs">solid:</text>
<text stroke="#000" stroke-width="0.55" x="616.3" y="78.6" font-size="18.5" textLength="56.1" lengthAdjust="spacingAndGlyphs">NLO(M)</text>
<path d="M675.9,81.7 L685.5,64.0" stroke="#000" stroke-width="1.9" fill="none"/>
<text stroke="#000" stroke-width="0.55" x="685.8" y="78.6" font-size="18.5" textLength="56.4" lengthAdjust="spacingAndGlyphs">NLO(Q)</text>
<text x="563.3" y="102.6" font-size="18.5" textLength="62.1" lengthAdjust="spacingAndGlyphs" style="fill:#f00">dashes:</text>
<text stroke="#f00" stroke-width="0.55" x="634.3" y="102.6" font-size="18.5" textLength="55.7" lengthAdjust="spacingAndGlyphs" style="fill:#f00">NLO(Q)</text>
<path d="M692.7,105.7 L702.4,88.0" stroke="#f00" stroke-width="1.9" fill="none"/>
<text stroke="#f00" stroke-width="0.55" x="701.9" y="102.6" font-size="18.5" textLength="45.1" lengthAdjust="spacingAndGlyphs" style="fill:#f00">LO(Q)</text>
<text x="563.3" y="126.3" font-size="18.5" textLength="71.7" lengthAdjust="spacingAndGlyphs" style="fill:#00f">dotdash:</text>
<text stroke="#00f" stroke-width="0.55" x="643.9" y="126.3" font-size="18.5" textLength="58.2" lengthAdjust="spacingAndGlyphs" style="fill:#00f">NLO(M)</text>
<path d="M704.8,129.4 L714.4,111.7" stroke="#00f" stroke-width="1.9" fill="none"/>
<text stroke="#00f" stroke-width="0.55" x="714.2" y="126.3" font-size="18.5" textLength="45.7" lengthAdjust="spacingAndGlyphs" style="fill:#00f">LO(M)</text>
<g transform="translate(436.5,277) rotate(-90)">
<text x="0" y="0" font-size="20" class="md" textLength="84.5" lengthAdjust="spacingAndGlyphs">relative</text>
<text x="95" y="0" font-size="20" class="md" textLength="65.5" lengthAdjust="spacingAndGlyphs">change</text>
</g>
</svg></div>
</body></html>
